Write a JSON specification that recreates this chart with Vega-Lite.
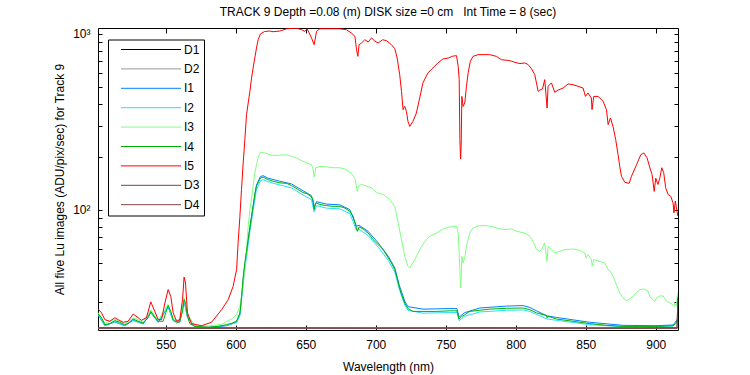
{
  "$schema": "https://vega.github.io/schema/vega-lite/v6.json",
  "width": 580,
  "height": 302,
  "autosize": {"type": "none"},
  "padding": {"left": 98, "top": 28, "right": 72, "bottom": 45},
  "background": "white",
  "config": {
    "view": {"stroke": "black", "strokeWidth": 1},
    "font": "Liberation Sans",
    "axis": {"labelFont": "Liberation Sans", "titleFont": "Liberation Sans", "labelColor": "black", "titleColor": "black", "tickColor": "black", "labelFontSize": 12, "titleFontSize": 12, "titleFontWeight": "normal", "grid": false, "domain": false},
    "legend": {"labelFont": "Liberation Sans", "labelColor": "black"}
  },
  "title": {"text": "TRACK 9 Depth =0.08 (m) DISK size =0 cm\u00a0\u00a0 Int Time = 8 (sec)", "font": "Liberation Sans", "fontSize": 12, "fontWeight": "normal", "color": "black", "offset": 9, "anchor": "middle"},
  "data": {"values": [
    {"s":"D1","x":501.6,"y":21.3},{"s":"D1","x":560,"y":21.2},{"s":"D1","x":620,"y":21.3},{"s":"D1","x":700,"y":21.2},{"s":"D1","x":780,"y":21.3},{"s":"D1","x":860,"y":21.2},{"s":"D1","x":915.8,"y":21.3},
    {"s":"D2","x":501.6,"y":21.2},{"s":"D2","x":560,"y":21.3},{"s":"D2","x":620,"y":21.2},{"s":"D2","x":700,"y":21.3},{"s":"D2","x":780,"y":21.2},{"s":"D2","x":860,"y":21.3},{"s":"D2","x":915.8,"y":21.2},
    {"s":"I1","x":501.7,"y":25.2},{"s":"I1","x":506.5,"y":21.9},{"s":"I1","x":513.6,"y":23.0},{"s":"I1","x":520.6,"y":21.9},{"s":"I1","x":526.7,"y":23.5},{"s":"I1","x":533.9,"y":22.4},{"s":"I1","x":539.3,"y":26.0},{"s":"I1","x":544.6,"y":22.9},{"s":"I1","x":551.7,"y":28.0},{"s":"I1","x":555.3,"y":23.4},{"s":"I1","x":560,"y":22.9},{"s":"I1","x":563.1,"y":30.3},{"s":"I1","x":565.5,"y":24.5},{"s":"I1","x":570.8,"y":21.5},{"s":"I1","x":580.3,"y":21.3},{"s":"I1","x":593.4,"y":21.9},{"s":"I1","x":600.5,"y":22.9},{"s":"I1","x":603,"y":25.5},{"s":"I1","x":605.4,"y":41},{"s":"I1","x":607.7,"y":57.5},{"s":"I1","x":610.1,"y":79},{"s":"I1","x":612.4,"y":105},{"s":"I1","x":614.8,"y":138},{"s":"I1","x":617.6,"y":154},{"s":"I1","x":619.5,"y":156},{"s":"I1","x":623.1,"y":151},{"s":"I1","x":631.5,"y":145},{"s":"I1","x":639.8,"y":140},{"s":"I1","x":648.1,"y":128},{"s":"I1","x":654.1,"y":120},{"s":"I1","x":656,"y":102},{"s":"I1","x":657.7,"y":111},{"s":"I1","x":664.8,"y":107.5},{"s":"I1","x":674.3,"y":106.5},{"s":"I1","x":681.5,"y":100},{"s":"I1","x":686.2,"y":80.5},{"s":"I1","x":688.1,"y":81.5},{"s":"I1","x":694.6,"y":75.2},{"s":"I1","x":701.7,"y":64.7},{"s":"I1","x":708.9,"y":54.4},{"s":"I1","x":713.6,"y":46.6},{"s":"I1","x":716.7,"y":37.4},{"s":"I1","x":720.7,"y":30.2},{"s":"I1","x":723,"y":28.1},{"s":"I1","x":733.7,"y":27.2},{"s":"I1","x":752.8,"y":27.4},{"s":"I1","x":758,"y":27.4},{"s":"I1","x":759.5,"y":24.5},{"s":"I1","x":763.6,"y":26},{"s":"I1","x":774.3,"y":27.6},{"s":"I1","x":793.4,"y":28.3},{"s":"I1","x":805.3,"y":28.5},{"s":"I1","x":810.1,"y":27.8},{"s":"I1","x":814.8,"y":26.6},{"s":"I1","x":822.4,"y":24.9},{"s":"I1","x":829,"y":24.4},{"s":"I1","x":852.9,"y":22.9},{"s":"I1","x":876.7,"y":22.0},{"s":"I1","x":900.5,"y":21.9},{"s":"I1","x":912.4,"y":22.1},{"s":"I1","x":915.8,"y":24},
    {"s":"I2","x":501.7,"y":25.3},{"s":"I2","x":506.5,"y":22.0},{"s":"I2","x":513.6,"y":23.1},{"s":"I2","x":520.6,"y":22.0},{"s":"I2","x":526.7,"y":23.6},{"s":"I2","x":533.9,"y":22.5},{"s":"I2","x":539.3,"y":26.1},{"s":"I2","x":544.6,"y":23.0},{"s":"I2","x":551.7,"y":28.2},{"s":"I2","x":555.3,"y":23.5},{"s":"I2","x":560,"y":23.0},{"s":"I2","x":563.1,"y":30.4},{"s":"I2","x":565.5,"y":24.6},{"s":"I2","x":570.8,"y":21.5},{"s":"I2","x":580.3,"y":21.4},{"s":"I2","x":593.4,"y":22.0},{"s":"I2","x":600.5,"y":22.8},{"s":"I2","x":603,"y":25},{"s":"I2","x":605.4,"y":39},{"s":"I2","x":607.7,"y":54},{"s":"I2","x":610.1,"y":75},{"s":"I2","x":612.4,"y":99},{"s":"I2","x":614.8,"y":130},{"s":"I2","x":617.6,"y":146},{"s":"I2","x":619.5,"y":148},{"s":"I2","x":623.1,"y":144},{"s":"I2","x":631.5,"y":138},{"s":"I2","x":639.8,"y":133},{"s":"I2","x":648.1,"y":121},{"s":"I2","x":654.1,"y":114},{"s":"I2","x":656,"y":97},{"s":"I2","x":657.7,"y":105.5},{"s":"I2","x":664.8,"y":102},{"s":"I2","x":674.3,"y":101},{"s":"I2","x":681.5,"y":95},{"s":"I2","x":686.2,"y":76.5},{"s":"I2","x":688.1,"y":77.3},{"s":"I2","x":694.6,"y":71.2},{"s":"I2","x":701.7,"y":61.2},{"s":"I2","x":708.9,"y":51.5},{"s":"I2","x":713.6,"y":44.2},{"s":"I2","x":716.7,"y":35.6},{"s":"I2","x":720.7,"y":28.7},{"s":"I2","x":723,"y":26.8},{"s":"I2","x":733.7,"y":25.8},{"s":"I2","x":752.8,"y":26.0},{"s":"I2","x":758,"y":26.0},{"s":"I2","x":759.5,"y":23.4},{"s":"I2","x":763.6,"y":24.8},{"s":"I2","x":774.3,"y":26.2},{"s":"I2","x":793.4,"y":26.8},{"s":"I2","x":805.3,"y":26.9},{"s":"I2","x":810.1,"y":26.4},{"s":"I2","x":814.8,"y":25.4},{"s":"I2","x":822.4,"y":23.9},{"s":"I2","x":829,"y":23.5},{"s":"I2","x":852.9,"y":22.2},{"s":"I2","x":876.7,"y":21.6},{"s":"I2","x":900.5,"y":21.6},{"s":"I2","x":912.4,"y":21.8},{"s":"I2","x":915.8,"y":23.5},
    {"s":"I3","x":501.7,"y":26},{"s":"I3","x":506.5,"y":22.6},{"s":"I3","x":513.6,"y":23.8},{"s":"I3","x":520.6,"y":22.5},{"s":"I3","x":526.7,"y":24.3},{"s":"I3","x":533.9,"y":23},{"s":"I3","x":539.3,"y":27},{"s":"I3","x":544.6,"y":23.5},{"s":"I3","x":551.7,"y":29},{"s":"I3","x":555.3,"y":24},{"s":"I3","x":560,"y":23.5},{"s":"I3","x":563.1,"y":31.5},{"s":"I3","x":565.5,"y":25.2},{"s":"I3","x":570.8,"y":22},{"s":"I3","x":580.3,"y":21.8},{"s":"I3","x":590,"y":22.3},{"s":"I3","x":597,"y":23.9},{"s":"I3","x":600.5,"y":25.3},{"s":"I3","x":603,"y":28.2},{"s":"I3","x":604.8,"y":35.1},{"s":"I3","x":606.5,"y":45.6},{"s":"I3","x":607.7,"y":59.3},{"s":"I3","x":608.9,"y":80},{"s":"I3","x":610.1,"y":100},{"s":"I3","x":611.3,"y":116},{"s":"I3","x":612.4,"y":136},{"s":"I3","x":613.6,"y":161},{"s":"I3","x":614.8,"y":180},{"s":"I3","x":616,"y":197},{"s":"I3","x":617.6,"y":212},{"s":"I3","x":620.7,"y":210},{"s":"I3","x":624.3,"y":205},{"s":"I3","x":627.9,"y":203},{"s":"I3","x":631.5,"y":204},{"s":"I3","x":636.3,"y":205},{"s":"I3","x":639.8,"y":201},{"s":"I3","x":643.4,"y":197},{"s":"I3","x":648.1,"y":188},{"s":"I3","x":651,"y":184},{"s":"I3","x":654.1,"y":180},{"s":"I3","x":655.2,"y":170},{"s":"I3","x":656,"y":153},{"s":"I3","x":657.2,"y":173},{"s":"I3","x":660,"y":176},{"s":"I3","x":664.8,"y":175},{"s":"I3","x":669.5,"y":173},{"s":"I3","x":674.4,"y":173},{"s":"I3","x":677.9,"y":170},{"s":"I3","x":681.5,"y":164},{"s":"I3","x":685.1,"y":151},{"s":"I3","x":686.8,"y":127},{"s":"I3","x":687.7,"y":136},{"s":"I3","x":689.8,"y":139},{"s":"I3","x":693.4,"y":136},{"s":"I3","x":697,"y":133},{"s":"I3","x":700.5,"y":125},{"s":"I3","x":705.3,"y":122},{"s":"I3","x":710.1,"y":114},{"s":"I3","x":713.6,"y":104.4},{"s":"I3","x":716,"y":84},{"s":"I3","x":718.4,"y":67.6},{"s":"I3","x":720.7,"y":54.3},{"s":"I3","x":723,"y":47.6},{"s":"I3","x":724.3,"y":46.6},{"s":"I3","x":727.9,"y":52},{"s":"I3","x":731.4,"y":59.3},{"s":"I3","x":735,"y":66},{"s":"I3","x":738.6,"y":70.5},{"s":"I3","x":743.4,"y":73.6},{"s":"I3","x":748.1,"y":77.7},{"s":"I3","x":752.9,"y":79.8},{"s":"I3","x":757.7,"y":80.4},{"s":"I3","x":758.9,"y":73.6},{"s":"I3","x":759.6,"y":56.7},{"s":"I3","x":760.6,"y":35.9},{"s":"I3","x":761,"y":40},{"s":"I3","x":761.5,"y":54.3},{"s":"I3","x":762.4,"y":49.8},{"s":"I3","x":763.6,"y":53.1},{"s":"I3","x":764.8,"y":61.9},{"s":"I3","x":767.1,"y":73.6},{"s":"I3","x":769.5,"y":78.8},{"s":"I3","x":774.3,"y":81.1},{"s":"I3","x":779,"y":81.1},{"s":"I3","x":783.8,"y":79.8},{"s":"I3","x":788.6,"y":77.7},{"s":"I3","x":793.4,"y":77},{"s":"I3","x":797,"y":77.7},{"s":"I3","x":800.5,"y":75.3},{"s":"I3","x":806.5,"y":73.6},{"s":"I3","x":810.1,"y":70.5},{"s":"I3","x":812.4,"y":66},{"s":"I3","x":814.8,"y":59.3},{"s":"I3","x":817.2,"y":57.9},{"s":"I3","x":818.4,"y":59.3},{"s":"I3","x":820.7,"y":64.7},{"s":"I3","x":822.4,"y":50.8},{"s":"I3","x":823.1,"y":61.9},{"s":"I3","x":825.5,"y":59.3},{"s":"I3","x":827.9,"y":56.7},{"s":"I3","x":831.5,"y":57.9},{"s":"I3","x":835.1,"y":59.3},{"s":"I3","x":841,"y":59.7},{"s":"I3","x":845.8,"y":58.7},{"s":"I3","x":849.4,"y":56.7},{"s":"I3","x":850.1,"y":53.1},{"s":"I3","x":851.7,"y":55.5},{"s":"I3","x":854.1,"y":52},{"s":"I3","x":854.6,"y":47.6},{"s":"I3","x":855.7,"y":52},{"s":"I3","x":860,"y":50.8},{"s":"I3","x":863.6,"y":49.8},{"s":"I3","x":866,"y":45.6},{"s":"I3","x":867.6,"y":44.7},{"s":"I3","x":869.5,"y":41.8},{"s":"I3","x":871.9,"y":37.5},{"s":"I3","x":874.3,"y":33.6},{"s":"I3","x":876.6,"y":31.5},{"s":"I3","x":879,"y":30.4},{"s":"I3","x":881.4,"y":31},{"s":"I3","x":885,"y":32.9},{"s":"I3","x":888.6,"y":35.1},{"s":"I3","x":891.5,"y":35.4},{"s":"I3","x":894.5,"y":34.4},{"s":"I3","x":895.9,"y":31.9},{"s":"I3","x":899.4,"y":30.1},{"s":"I3","x":900.5,"y":31.5},{"s":"I3","x":902.9,"y":32.3},{"s":"I3","x":905.3,"y":32.3},{"s":"I3","x":907.7,"y":30.1},{"s":"I3","x":911.2,"y":29.2},{"s":"I3","x":912.9,"y":28.2},{"s":"I3","x":913.6,"y":29.5},{"s":"I3","x":914.8,"y":28.2},{"s":"I3","x":915.5,"y":33.6},
    {"s":"I4","x":501.7,"y":25.6},{"s":"I4","x":504.1,"y":24.3},{"s":"I4","x":506.5,"y":22.2},{"s":"I4","x":510,"y":22.5},{"s":"I4","x":513.6,"y":23.4},{"s":"I4","x":517.1,"y":22.9},{"s":"I4","x":520.6,"y":22.2},{"s":"I4","x":523,"y":22.5},{"s":"I4","x":526.7,"y":23.9},{"s":"I4","x":530.3,"y":23.2},{"s":"I4","x":533.9,"y":22.7},{"s":"I4","x":537.4,"y":24.3},{"s":"I4","x":539.3,"y":26.4},{"s":"I4","x":541.7,"y":24.8},{"s":"I4","x":544.6,"y":23.2},{"s":"I4","x":548.1,"y":23.2},{"s":"I4","x":550,"y":25.9},{"s":"I4","x":551.7,"y":28.5},{"s":"I4","x":553.6,"y":26.4},{"s":"I4","x":555.3,"y":23.7},{"s":"I4","x":557.7,"y":22.7},{"s":"I4","x":560,"y":23.2},{"s":"I4","x":562,"y":26.4},{"s":"I4","x":563.1,"y":30.8},{"s":"I4","x":564.1,"y":29.5},{"s":"I4","x":565.5,"y":24.8},{"s":"I4","x":567.2,"y":22.5},{"s":"I4","x":570.8,"y":21.7},{"s":"I4","x":580.3,"y":21.5},{"s":"I4","x":587.4,"y":21.7},{"s":"I4","x":593.4,"y":22.2},{"s":"I4","x":597,"y":22.6},{"s":"I4","x":600.5,"y":23.2},{"s":"I4","x":603,"y":25.9},{"s":"I4","x":604.2,"y":32},{"s":"I4","x":605.4,"y":42},{"s":"I4","x":606.5,"y":50},{"s":"I4","x":607.7,"y":58},{"s":"I4","x":608.9,"y":68},{"s":"I4","x":610.1,"y":79},{"s":"I4","x":611.3,"y":91.6},{"s":"I4","x":612.4,"y":104.4},{"s":"I4","x":613.6,"y":122},{"s":"I4","x":614.8,"y":136},{"s":"I4","x":616.5,"y":145},{"s":"I4","x":617.6,"y":151},{"s":"I4","x":619.5,"y":153},{"s":"I4","x":623.1,"y":148},{"s":"I4","x":626.7,"y":145},{"s":"I4","x":631.5,"y":142},{"s":"I4","x":636.3,"y":141},{"s":"I4","x":639.8,"y":137},{"s":"I4","x":644.6,"y":130},{"s":"I4","x":648.1,"y":125},{"s":"I4","x":651,"y":123},{"s":"I4","x":654.1,"y":118},{"s":"I4","x":655.2,"y":114},{"s":"I4","x":656,"y":100},{"s":"I4","x":656.8,"y":108},{"s":"I4","x":657.7,"y":109},{"s":"I4","x":660,"y":107},{"s":"I4","x":664.8,"y":105.4},{"s":"I4","x":669.5,"y":104.4},{"s":"I4","x":674.3,"y":104.4},{"s":"I4","x":677.9,"y":102},{"s":"I4","x":681.5,"y":97.8},{"s":"I4","x":683.8,"y":91.6},{"s":"I4","x":686.2,"y":78.8},{"s":"I4","x":686.9,"y":75.3},{"s":"I4","x":688.1,"y":79.8},{"s":"I4","x":690.9,"y":77.7},{"s":"I4","x":694.6,"y":73.6},{"s":"I4","x":698.1,"y":67.6},{"s":"I4","x":701.7,"y":63.3},{"s":"I4","x":705.3,"y":59.3},{"s":"I4","x":708.9,"y":53.2},{"s":"I4","x":711.2,"y":49.8},{"s":"I4","x":713.6,"y":45.6},{"s":"I4","x":715.3,"y":40.9},{"s":"I4","x":716.7,"y":36.6},{"s":"I4","x":718.4,"y":32.9},{"s":"I4","x":720.7,"y":29.5},{"s":"I4","x":723,"y":27.4},{"s":"I4","x":726.6,"y":26.4},{"s":"I4","x":733.7,"y":26.4},{"s":"I4","x":743.2,"y":26.4},{"s":"I4","x":752.8,"y":26.6},{"s":"I4","x":758,"y":26.6},{"s":"I4","x":759.5,"y":23.9},{"s":"I4","x":761.2,"y":24.6},{"s":"I4","x":763.6,"y":25.3},{"s":"I4","x":767.1,"y":26.4},{"s":"I4","x":774.3,"y":26.8},{"s":"I4","x":781.4,"y":27.2},{"s":"I4","x":793.4,"y":27.5},{"s":"I4","x":805.3,"y":27.6},{"s":"I4","x":810.1,"y":27},{"s":"I4","x":814.8,"y":25.9},{"s":"I4","x":822,"y":25},{"s":"I4","x":822.4,"y":24.3},{"s":"I4","x":823,"y":24.8},{"s":"I4","x":829,"y":23.9},{"s":"I4","x":841,"y":23.2},{"s":"I4","x":852.9,"y":22.5},{"s":"I4","x":864.8,"y":22},{"s":"I4","x":876.7,"y":21.7},{"s":"I4","x":888.6,"y":21.7},{"s":"I4","x":900.5,"y":21.7},{"s":"I4","x":912.4,"y":21.9},{"s":"I4","x":914.3,"y":22.5},{"s":"I4","x":915.8,"y":24},
    {"s":"I5","x":501.7,"y":27.3},{"s":"I5","x":504.1,"y":25.9},{"s":"I5","x":506.5,"y":23.7},{"s":"I5","x":510,"y":23.2},{"s":"I5","x":513.6,"y":24.3},{"s":"I5","x":516,"y":23.7},{"s":"I5","x":519.6,"y":22.9},{"s":"I5","x":523.1,"y":23.2},{"s":"I5","x":526.7,"y":25.5},{"s":"I5","x":530.3,"y":24.3},{"s":"I5","x":532.6,"y":23.5},{"s":"I5","x":536.2,"y":24.3},{"s":"I5","x":539.3,"y":29.9},{"s":"I5","x":542.2,"y":26.4},{"s":"I5","x":544.6,"y":23.7},{"s":"I5","x":547,"y":23.7},{"s":"I5","x":549.4,"y":29.5},{"s":"I5","x":551.7,"y":35.1},{"s":"I5","x":553.6,"y":32.1},{"s":"I5","x":555.3,"y":25.9},{"s":"I5","x":557.7,"y":23.2},{"s":"I5","x":560,"y":23.7},{"s":"I5","x":562,"y":30.8},{"s":"I5","x":563.1,"y":41.4},{"s":"I5","x":564.1,"y":38.3},{"s":"I5","x":565.5,"y":25.9},{"s":"I5","x":568.4,"y":22.5},{"s":"I5","x":575.6,"y":21.9},{"s":"I5","x":582.7,"y":22.9},{"s":"I5","x":589.9,"y":27},{"s":"I5","x":594.6,"y":30.8},{"s":"I5","x":598.1,"y":36.6},{"s":"I5","x":600.6,"y":45.6},{"s":"I5","x":601.7,"y":65},{"s":"I5","x":602.9,"y":90},{"s":"I5","x":604.1,"y":130},{"s":"I5","x":605.3,"y":184},{"s":"I5","x":606.5,"y":250},{"s":"I5","x":607.7,"y":347},{"s":"I5","x":608.9,"y":404},{"s":"I5","x":610.1,"y":470},{"s":"I5","x":611.3,"y":560},{"s":"I5","x":612.4,"y":638},{"s":"I5","x":613.6,"y":727},{"s":"I5","x":614.8,"y":829},{"s":"I5","x":616,"y":924},{"s":"I5","x":617.6,"y":996},{"s":"I5","x":620.7,"y":1030},{"s":"I5","x":624.3,"y":1035},{"s":"I5","x":626.7,"y":1026},{"s":"I5","x":631.5,"y":1035},{"s":"I5","x":636.3,"y":1066},{"s":"I5","x":643.4,"y":1075},{"s":"I5","x":647,"y":1053},{"s":"I5","x":649.4,"y":1030},{"s":"I5","x":651,"y":1066},{"s":"I5","x":654.1,"y":946},{"s":"I5","x":656,"y":866},{"s":"I5","x":657.7,"y":1030},{"s":"I5","x":660,"y":1066},{"s":"I5","x":667,"y":1066},{"s":"I5","x":674,"y":1066},{"s":"I5","x":679.1,"y":1053},{"s":"I5","x":682.6,"y":1008},{"s":"I5","x":685.1,"y":966},{"s":"I5","x":686.3,"y":811},{"s":"I5","x":687.2,"y":743},{"s":"I5","x":688.1,"y":866},{"s":"I5","x":689.8,"y":885},{"s":"I5","x":692.2,"y":924},{"s":"I5","x":694.6,"y":896},{"s":"I5","x":697,"y":946},{"s":"I5","x":699.4,"y":906},{"s":"I5","x":701.7,"y":885},{"s":"I5","x":704.9,"y":924},{"s":"I5","x":707.7,"y":912},{"s":"I5","x":711.2,"y":866},{"s":"I5","x":713.6,"y":822},{"s":"I5","x":715.3,"y":727},{"s":"I5","x":717.1,"y":585},{"s":"I5","x":718.4,"y":470},{"s":"I5","x":719.5,"y":370},{"s":"I5","x":720.7,"y":386},{"s":"I5","x":721.9,"y":362},{"s":"I5","x":723,"y":318},{"s":"I5","x":724.3,"y":297},{"s":"I5","x":726.6,"y":318},{"s":"I5","x":729,"y":354},{"s":"I5","x":731.4,"y":431},{"s":"I5","x":733.7,"y":525},{"s":"I5","x":737.3,"y":599},{"s":"I5","x":740.8,"y":638},{"s":"I5","x":744.4,"y":682},{"s":"I5","x":748,"y":718},{"s":"I5","x":751.7,"y":727},{"s":"I5","x":755,"y":745},{"s":"I5","x":757.7,"y":750},{"s":"I5","x":758.9,"y":651},{"s":"I5","x":759.6,"y":548},{"s":"I5","x":760.1,"y":250},{"s":"I5","x":760.6,"y":194},{"s":"I5","x":761,"y":229},{"s":"I5","x":761.5,"y":440},{"s":"I5","x":762.4,"y":386},{"s":"I5","x":763.6,"y":404},{"s":"I5","x":764.8,"y":502},{"s":"I5","x":766,"y":599},{"s":"I5","x":767.6,"y":697},{"s":"I5","x":769.5,"y":743},{"s":"I5","x":773.1,"y":760},{"s":"I5","x":776.7,"y":760},{"s":"I5","x":781.4,"y":760},{"s":"I5","x":786.2,"y":743},{"s":"I5","x":789.8,"y":711},{"s":"I5","x":794.6,"y":705},{"s":"I5","x":797,"y":698},{"s":"I5","x":799.4,"y":687},{"s":"I5","x":803,"y":676},{"s":"I5","x":806.5,"y":682},{"s":"I5","x":808.9,"y":667},{"s":"I5","x":811.3,"y":631},{"s":"I5","x":813.6,"y":585},{"s":"I5","x":816,"y":470},{"s":"I5","x":817.2,"y":478},{"s":"I5","x":819.1,"y":485},{"s":"I5","x":820.7,"y":548},{"s":"I5","x":822.4,"y":378},{"s":"I5","x":823.1,"y":502},{"s":"I5","x":825.5,"y":525},{"s":"I5","x":827.9,"y":464},{"s":"I5","x":830.2,"y":478},{"s":"I5","x":833.8,"y":491},{"s":"I5","x":837.4,"y":518},{"s":"I5","x":840.9,"y":513},{"s":"I5","x":844.5,"y":502},{"s":"I5","x":848.1,"y":491},{"s":"I5","x":849.8,"y":440},{"s":"I5","x":851.6,"y":460},{"s":"I5","x":854,"y":431},{"s":"I5","x":854.5,"y":370},{"s":"I5","x":855.7,"y":440},{"s":"I5","x":858.8,"y":440},{"s":"I5","x":862.4,"y":413},{"s":"I5","x":864.8,"y":370},{"s":"I5","x":866,"y":304},{"s":"I5","x":867.6,"y":332},{"s":"I5","x":869.5,"y":297},{"s":"I5","x":871.4,"y":250},{"s":"I5","x":873.1,"y":205},{"s":"I5","x":874.3,"y":176},{"s":"I5","x":875.5,"y":155},{"s":"I5","x":877.9,"y":143},{"s":"I5","x":881,"y":141},{"s":"I5","x":882.7,"y":155},{"s":"I5","x":886.3,"y":180},{"s":"I5","x":889.3,"y":205},{"s":"I5","x":891.5,"y":210},{"s":"I5","x":893.8,"y":197},{"s":"I5","x":895.8,"y":173},{"s":"I5","x":897.4,"y":158},{"s":"I5","x":898.9,"y":127},{"s":"I5","x":900,"y":151},{"s":"I5","x":901.6,"y":139},{"s":"I5","x":902.9,"y":151},{"s":"I5","x":904.3,"y":173},{"s":"I5","x":905.7,"y":162},{"s":"I5","x":907.1,"y":133},{"s":"I5","x":908.8,"y":122},{"s":"I5","x":910.7,"y":119},{"s":"I5","x":912.4,"y":109},{"s":"I5","x":913,"y":95.8},{"s":"I5","x":914,"y":112},{"s":"I5","x":915.2,"y":97.8},{"s":"I5","x":915.8,"y":92},
    {"s":"D3","x":501.6,"y":21.2},{"s":"D3","x":540,"y":21.25},{"s":"D3","x":600,"y":21.2},{"s":"D3","x":660,"y":21.25},{"s":"D3","x":720,"y":21.2},{"s":"D3","x":780,"y":21.25},{"s":"D3","x":840,"y":21.2},{"s":"D3","x":900,"y":21.25},{"s":"D3","x":915.2,"y":21.2},{"s":"D3","x":915.8,"y":32},
    {"s":"D4","x":501.6,"y":21.25},{"s":"D4","x":540,"y":21.2},{"s":"D4","x":600,"y":21.25},{"s":"D4","x":660,"y":21.2},{"s":"D4","x":720,"y":21.25},{"s":"D4","x":780,"y":21.2},{"s":"D4","x":840,"y":21.25},{"s":"D4","x":900,"y":21.2},{"s":"D4","x":915.2,"y":21.25},{"s":"D4","x":915.8,"y":31}
  ]},
  "layer": [
    {
      "mark": {"type": "line", "strokeWidth": 1, "clip": true, "interpolate": "linear"},
      "encoding": {
        "x": {"field": "x", "type": "quantitative", "scale": {"domain": [501.6, 915.9], "nice": false, "zero": false},
              "axis": {"orient": "bottom", "values": [550, 600, 650, 700, 750, 800, 850, 900], "tickSize": -5, "labelPadding": 14, "title": "Wavelength (nm)", "titlePadding": 11}},
        "y": {"field": "y", "type": "quantitative", "scale": {"type": "log", "domain": [20.7, 1077], "nice": false},
              "axis": {"orient": "left", "values": [30, 40, 50, 60, 70, 80, 90, 100, 200, 300, 400, 500, 600, 700, 800, 900, 1000], "tickSize": -4, "labelPadding": 12, "labelExpr": "datum.value == 1000 ? '10³' : (datum.value == 100 ? '10²' : '')", "title": "All five Lu images (ADU/pix/sec) for Track 9", "titlePadding": 6}},
        "color": {"field": "s", "type": "nominal",
                  "scale": {"domain": ["D1", "D2", "I1", "I2", "I3", "I4", "I5", "D3", "D4"], "range": ["#000000", "#999999", "#0080ff", "#20e0ff", "#80ff80", "#00b000", "#ff0000", "#804040", "#804545"]},
                  "legend": {"orient": "none", "legendX": 10, "legendY": 11.5, "title": null, "symbolType": "M-6,0H6", "symbolSize": 100, "symbolStrokeWidth": 1, "symbolOffset": 33, "labelFontSize": 12, "labelOffset": 27, "strokeColor": "black", "fillColor": "white", "padding": 4, "rowPadding": 7.4}}
      }
    },
    {
      "mark": {"type": "line", "strokeOpacity": 0, "clip": true},
      "encoding": {
        "x": {"field": "x", "type": "quantitative", "axis": {"orient": "top", "values": [550, 600, 650, 700, 750, 800, 850, 900], "tickSize": -5, "labels": false, "title": null}},
        "y": {"field": "y", "type": "quantitative", "scale": {"type": "log"}, "axis": {"orient": "right", "values": [30, 40, 50, 60, 70, 80, 90, 100, 200, 300, 400, 500, 600, 700, 800, 900, 1000], "tickSize": -4, "labels": false, "title": null}},
        "detail": {"field": "s"}
      }
    }
  ],
  "resolve": {"axis": {"x": "independent", "y": "independent"}}
}
